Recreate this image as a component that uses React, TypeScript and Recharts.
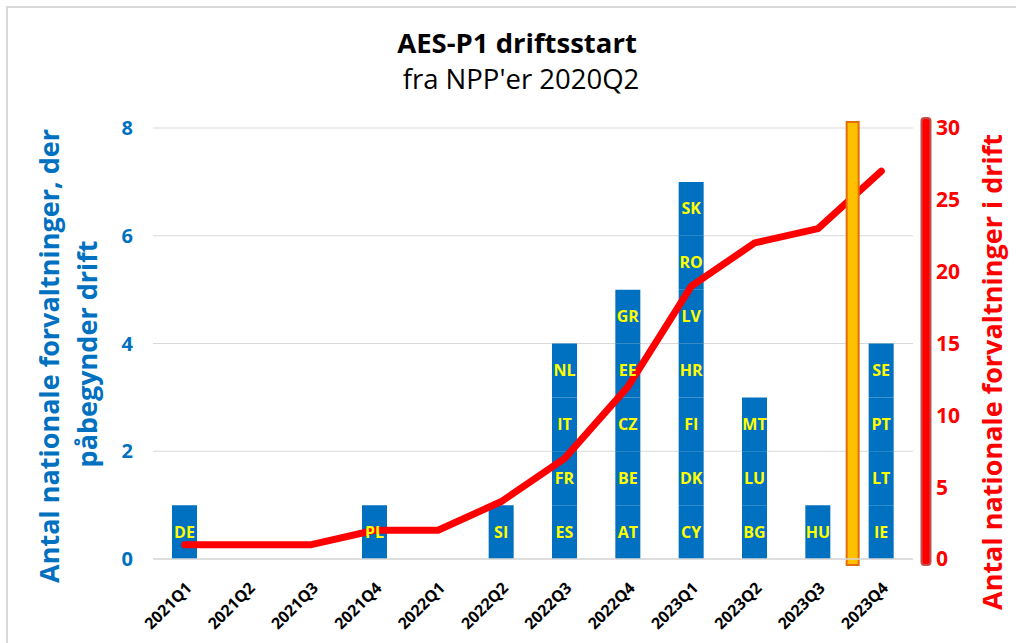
import React from "react";
import { Bar, ComposedChart, CartesianGrid, LabelList, Line, ReferenceLine, XAxis, YAxis } from "recharts";

const quarters = [
  "2021Q1", "2021Q2", "2021Q3", "2021Q4",
  "2022Q1", "2022Q2", "2022Q3", "2022Q4",
  "2023Q1", "2023Q2", "2023Q3", "2023Q4",
];

// countries starting operation in each quarter, bottom to top of the bar
const startedCountries = [
  ["DE"], [], [], ["PL"],
  [], ["SI"], ["ES", "FR", "IT", "NL"], ["AT", "BE", "CZ", "EE", "GR"],
  ["CY", "DK", "FI", "HR", "LV", "RO", "SK"], ["BG", "LU", "MT"], ["HU"], ["IE", "LT", "PT", "SE"],
];

// national administrations in operation (right axis)
const inOperation = [1, 1, 1, 2, 2, 4, 7, 12, 19, 22, 23, 27];

const leftTicks = [0, 2, 4, 6, 8];
const rightTicks = [0, 5, 10, 15, 20, 25, 30];

const FONT = "'Open Sans', sans-serif";
const BLUE = "#0070C0";
const RED = "#FF0000";

const levels = [0, 1, 2, 3, 4, 5, 6];

const data = quarters.map((q, i) => {
  const row: Record<string, string | number | undefined> = { quarter: q, total: inOperation[i] };
  levels.forEach((k) => {
    const c = startedCountries[i][k];
    row[`s${k}`] = c ? 1 : undefined;
    row[`c${k}`] = c;
  });
  return row;
});

function QuarterTick(props: any) {
  const { x, y, payload } = props;
  const ax = x + 8;
  const ay = y + 22;
  return (
    <text
      x={ax}
      y={ay}
      transform={`rotate(-45, ${ax}, ${ay})`}
      textAnchor="end"
      fontFamily={FONT}
      fontWeight="bold"
      fontSize={16}
      fill="#000"
    >
      {payload.value}
    </text>
  );
}

function LeftTitle() {
  return (
    <g fill={BLUE} fontFamily={FONT} fontWeight="bold" fontSize={27}>
      <text x={48} y={356} transform="rotate(-90, 48, 356)" textAnchor="middle" dominantBaseline="central">
        Antal nationale forvaltninger, der
      </text>
      <text x={86} y={354} transform="rotate(-90, 86, 354)" textAnchor="middle" dominantBaseline="central">
        påbegynder drift
      </text>
    </g>
  );
}

// right axis title plus the thick red axis bar, placed from the axis viewBox
function RightAxisDecor(props: any) {
  const vb = props.viewBox || { x: 913, y: 128, width: 103, height: 431 };
  const lineX = vb.x + 13;
  return (
    <g>
      <rect
        x={lineX - 4.5}
        y={vb.y - 10}
        width={9}
        height={vb.height + 16}
        rx={3}
        fill={RED}
        stroke="#C0504D"
        strokeWidth={2}
      />
      <text
        x={991}
        y={372}
        transform="rotate(-90, 991, 372)"
        textAnchor="middle"
        dominantBaseline="central"
        fill={RED}
        fontFamily={FONT}
        fontWeight="bold"
        fontSize={27}
      >
        Antal nationale forvaltninger i drift
      </text>
    </g>
  );
}

// orange marker between 2023Q3 and 2023Q4
const markerShape = (p: any) => {
  const top = Math.min(p.y1, p.y2);
  const bottom = Math.max(p.y1, p.y2);
  return (
    <rect x={p.x1 - 3} y={top - 6} width={12} height={bottom - top + 12} fill="#FFC000" stroke="#E46C0A" strokeWidth={2} />
  );
};

export default function App() {
  return (
    <div style={{ position: "absolute", left: 0, top: 0, width: 1016, height: 643, background: "#fff", overflow: "hidden" }}>
      <div
        style={{
          position: "absolute", left: 6, top: 6, width: 1008, height: 635,
          borderTop: "2px solid #d9d9d9", borderLeft: "2px solid #d9d9d9",
        }}
      />
      <svg width={1016} height={110} style={{ position: "absolute", left: 0, top: 0 }}>
        <text x={517} y={53} textAnchor="middle" fontFamily={FONT} fontWeight="bold" fontSize={27.5} fill="#000">
          AES-P1 driftsstart
        </text>
        <text x={521} y={89} textAnchor="middle" fontFamily={FONT} fontSize={27.5} fill="#000">
          fra NPP'er 2020Q2
        </text>
      </svg>
      <div style={{ position: "absolute", left: 0, top: 0 }}>
        <ComposedChart width={1016} height={643} data={data} margin={{ top: 128, right: 0, bottom: 0, left: 0 }}>
          <CartesianGrid yAxisId="left" vertical={false} stroke="#d9d9d9" />
          <XAxis
            dataKey="quarter"
            interval={0}
            height={84}
            tickLine={false}
            axisLine={{ stroke: "#d9d9d9", strokeWidth: 1.5 }}
            tick={<QuarterTick />}
          />
          <YAxis
            yAxisId="left"
            width={153}
            domain={[0, 8]}
            ticks={leftTicks}
            axisLine={false}
            tickLine={false}
            tickMargin={14}
            tick={{ fill: BLUE, fontFamily: FONT, fontWeight: "bold", fontSize: 20 }}
            label={{ content: () => <LeftTitle /> }}
          />
          <YAxis
            yAxisId="right"
            orientation="right"
            width={103}
            domain={[0, 30]}
            ticks={rightTicks}
            axisLine={false}
            tickLine={false}
            tickMargin={17}
            tick={{ fill: RED, fontFamily: FONT, fontWeight: "bold", fontSize: 21 }}
            label={{ content: (p: any) => <RightAxisDecor {...p} /> }}
          />
          {levels.map((k) => (
            <Bar
              key={k}
              yAxisId="left"
              dataKey={`s${k}`}
              stackId="started"
              fill={BLUE}
              barSize={25}
              isAnimationActive={false}
            >
              <LabelList
                dataKey={`c${k}`}
                position="center"
                fill="#FFFF00"
                fontFamily={FONT}
                fontWeight="bold"
                fontSize={16}
              />
            </Bar>
          ))}
          <Line
            yAxisId="right"
            type="linear"
            dataKey="total"
            stroke={RED}
            strokeWidth={7}
            strokeLinecap="round"
            strokeLinejoin="round"
            dot={false}
            activeDot={false}
            isAnimationActive={false}
          />
          <ReferenceLine yAxisId="left" x="2023Q4" position="start" shape={markerShape} />
        </ComposedChart>
      </div>
    </div>
  );
}
